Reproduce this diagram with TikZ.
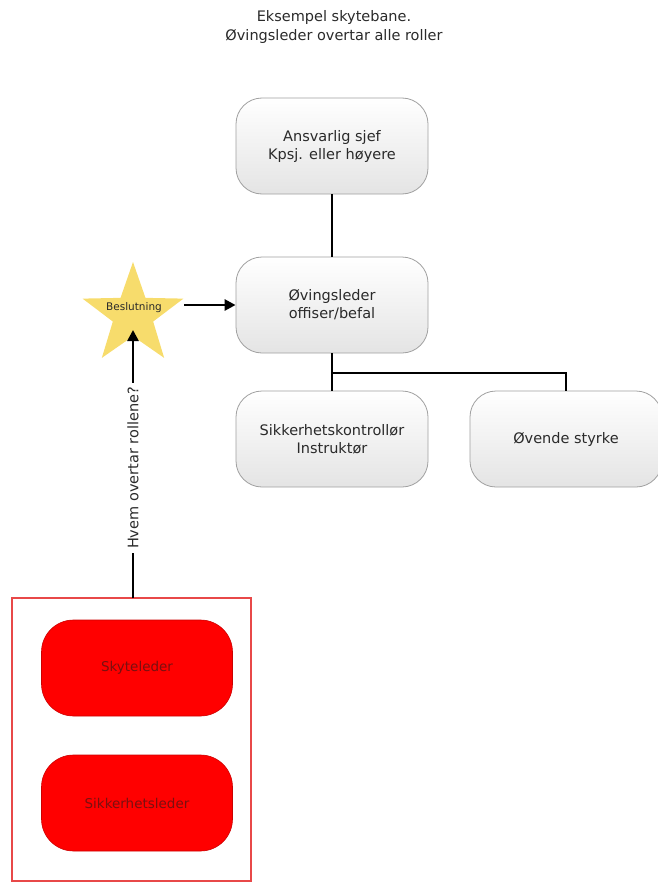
\documentclass[tikz,border=0pt]{standalone}
\usepackage{fontspec}
\setmainfont{DejaVu Sans}
\usetikzlibrary{shapes.geometric,arrows.meta}
\definecolor{boxfill}{HTML}{E4E4E4}
\definecolor{boxline}{HTML}{A0A0A0}
\definecolor{starfill}{HTML}{F7DC6C}
\definecolor{redfill}{HTML}{FF0000}
\definecolor{redframe}{HTML}{E84848}
\definecolor{redtext}{HTML}{7A1010}
\definecolor{txt}{HTML}{2A2A2A}
\tikzset{
  rolebox/.style={draw=boxline, line width=0.8pt, top color=white, bottom color=boxfill,
    rounded corners=26pt, minimum width=192pt, minimum height=96pt, align=center,
    font=\fontsize{14.5}{18}\selectfont, text=txt},
  redbox/.style={draw=red!80!black, line width=0.6pt, fill=redfill, rounded corners=32pt,
    minimum width=191pt, minimum height=96pt, align=center, font=\fontsize{13.5}{16}\selectfont, text=redtext},
  conn/.style={line width=2.6pt, black},
  arr/.style={conn, -{Triangle[length=11pt,width=11pt]}}
}
\begin{document}
\begin{tikzpicture}[x=1pt,y=-1pt]
\useasboundingbox (0,0) rectangle (657,883);
\node[align=center, font=\fontsize{14.5}{19}\selectfont, text=txt] (title) at (334,27)
  {Eksempel skytebane.\\Øvingsleder overtar alle roller};
\node[rolebox] (sjef) at (332,146) {Ansvarlig sjef\\Kpsj. eller høyere};
\node[rolebox] (ovl) at (332,305) {Øvingsleder\\offiser/befal};
\node[rolebox] (sikk) at (332,439) {Sikkerhetskontrollør\\Instruktør};
\node[rolebox] (ovs) at (566,439) {Øvende styrke};
\node[star, star points=5, star point ratio=2.5, fill=starfill, minimum size=106pt, inner sep=0pt] (star) at (133,315) {};
\node[font=\fontsize{10.5}{12}\selectfont, text=txt] (beslut) at (134,308) {Beslutning};
\draw[draw=redframe, line width=2.5pt] (12,598) rectangle (251,881);
\coordinate (frametop) at (133,598);
\node[redbox] (sky) at (137,668) {Skyteleder};
\node[redbox] (sikl) at (137,803) {Sikkerhetsleder};
\draw[conn] (sjef.south) -- (ovl.north);
\coordinate (split) at (332,373);
\draw[conn] (ovl.south) -- (sikk.north);
\draw[conn] (split) -| (ovs.north);
\coordinate (starright) at (184,305);
\draw[arr] (starright) -- (ovl.west);
\node[rotate=90, font=\fontsize{14.5}{18}\selectfont, text=txt, fill=white, inner sep=4pt] (hvem) at (133,468) {Hvem overtar rollene?};
\draw[conn] (frametop) -- (hvem.west);
\draw[arr] (hvem.east) -- (133,330);
\end{tikzpicture}
\end{document}
